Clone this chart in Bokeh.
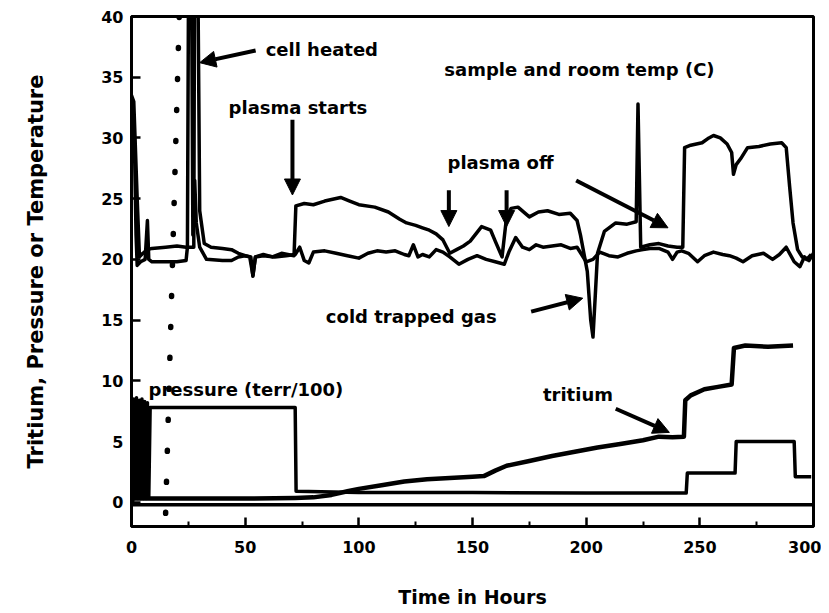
from bokeh.plotting import figure
from bokeh.models import Range1d, FixedTicker, Arrow, NormalHead, ColumnDataSource
from bokeh.core.properties import value
from bokeh.embed import file_html
from bokeh.resources import INLINE

# ---- data ----
sample_h = [0, 1, 2.5, 3.5, 5, 7, 9, 15, 20, 24, 27.4, 27.8, 29, 30, 32, 35, 40, 44, 47, 50, 52.5, 53.4, 54.5,
            58, 62, 66, 71.5, 72.3, 76, 80, 85, 92, 96, 100, 107, 113, 118, 121, 125, 128, 131, 134, 137, 140,
            143, 146, 149, 154, 158, 160, 163, 165, 167, 170, 175, 179, 183, 188, 193, 196, 197.5, 199, 200.5,
            202, 203, 204, 205, 208, 213, 218, 222, 222.8, 224, 228, 232, 236, 240, 242.5, 243.3, 246, 251,
            254, 256, 259, 262, 264, 264.8, 266, 268, 271, 276, 281, 286, 288, 289.5, 291, 293, 295, 297, 299]
sample_t = [33.5, 33, 25, 20.2, 20.5, 20.8, 20.9, 21.0, 21.1, 21.0, 21.0, 48, 48, 24, 21.3, 21.0, 20.9, 20.8,
            20.5, 20.3, 20.2, 18.6, 20.2, 20.4, 20.2, 20.5, 20.3, 24.4, 24.6, 24.5, 24.8, 25.1, 24.8, 24.5,
            24.3, 23.9, 23.3, 23.0, 22.8, 22.6, 22.4, 22.1, 21.6, 20.5, 20.8, 21.1, 21.5, 22.7, 22.4, 21.5,
            20.2, 23.5, 24.2, 24.3, 23.5, 23.9, 24.0, 23.7, 23.8, 23.2, 22.0, 20.5, 19.0, 15.0, 13.6, 17.0,
            20.5, 22.3, 23.0, 22.9, 23.1, 32.8, 21.0, 21.2, 21.3, 21.1, 21.0, 21.0, 29.2, 29.4, 29.6, 30.0,
            30.2, 30.0, 29.5, 28.8, 27.0, 27.8, 28.3, 29.2, 29.3, 29.5, 29.6, 29.2, 26.0, 23.0, 20.8, 20.2,
            20.0, 20.4]

room_h = [0, 1.2, 2, 2.5, 4, 6, 7, 7.6, 9, 15, 20, 24, 24.6, 25.2, 26.3, 27, 27.8, 28.5, 30, 33, 40, 44, 47,
          50, 52, 53.4, 54.5, 58, 63, 68, 72, 74, 76, 78, 80, 85, 90, 95, 100, 104, 108, 112, 116, 120, 122,
          124, 126, 128, 131, 134, 137, 140, 144, 148, 152, 156, 160, 164, 166, 169, 172, 175, 178, 181, 185,
          189, 193, 196, 198, 200, 203, 206, 210, 214, 218, 222, 225, 228, 232, 236, 238, 240, 242, 245, 249,
          252, 256, 260, 263, 266, 269, 273, 278, 282, 285, 288, 291.5, 294, 296, 298, 300]
room_t = [32, 30.5, 22, 19.5, 19.8, 20.0, 23.2, 20.0, 19.8, 19.8, 19.8, 19.9, 21, 48, 48, 22, 26.5, 23, 21,
          20.0, 19.9, 19.9, 20.2, 20.3, 20.2, 18.7, 20.2, 20.3, 20.2, 20.3, 20.4, 21.0, 19.9, 19.7, 20.6, 20.7,
          20.5, 20.3, 20.1, 20.5, 20.7, 20.6, 20.7, 20.4, 20.3, 21.2, 20.2, 20.4, 20.2, 20.8, 20.6, 20.2, 19.6,
          20.0, 20.3, 20.0, 19.8, 19.6, 20.6, 21.8, 21.0, 20.8, 21.2, 21.0, 21.1, 21.2, 20.9, 21.0, 20.4, 19.8,
          20.0, 20.6, 20.3, 20.2, 20.5, 20.7, 20.8, 20.9, 20.9, 20.6, 20.0, 20.6, 20.7, 20.5, 19.8, 20.3, 20.6,
          20.4, 20.3, 20.1, 19.8, 20.3, 20.5, 20.0, 20.4, 21.0, 19.8, 19.4, 20.2, 19.9, 20.5]

pressure_h = [0.5, 1, 1.5, 2.2, 2.8, 3.5, 4, 4.6, 5.2, 5.8, 6.4, 7, 7.6, 8.2, 72, 72.4, 100, 150, 200, 244,
              244.5, 265.5, 266, 291.5, 292, 299]
pressure_v = [-0.2, 8.5, 0.3, 8.6, 0.3, 8.4, 0.3, 8.5, 0.3, 8.3, 0.3, 8.2, 0.4, 7.8, 7.8, 0.9, 0.8, 0.8,
              0.75, 0.75, 2.4, 2.4, 5.0, 5.0, 2.1, 2.1]

tritium_h = [1, 20, 50, 72, 80, 88, 95, 100, 110, 120, 130, 140, 150, 155, 160, 165, 175, 185, 195, 205,
             215, 225, 232, 238, 243, 243.6, 246, 252, 258, 264, 265, 270, 280, 291]
tritium_v = [0.3, 0.3, 0.3, 0.35, 0.4, 0.6, 0.9, 1.1, 1.4, 1.7, 1.9, 2.0, 2.1, 2.15, 2.6, 3.0, 3.4, 3.8,
             4.15, 4.5, 4.8, 5.1, 5.4, 5.35, 5.4, 8.4, 8.8, 9.3, 9.5, 9.7, 12.7, 12.9, 12.8, 12.9]

baseline_h = [0, 300]
baseline_v = [-0.2, -0.2]

heat_mark_h = [21, 15]
heat_mark_v = [40, -1]

x_ticks = [0, 50, 100, 150, 200, 250, 300]
x_minor = [25, 75, 125, 175, 225, 275]
y_ticks = [0, 5, 10, 15, 20, 25, 30, 35, 40]

label_text = ["cell heated", "plasma starts", "sample and room temp (C)", "plasma off",
              "cold trapped gas", "pressure (terr/100)", "tritium"]
label_h = [59, 42.7, 137.6, 139, 85.5, 7.5, 181]
label_v = [37.3, 32.5, 35.6, 28.0, 15.3, 9.3, 8.9]

arrow_h0 = [54.6, 70.8, 139.6, 165, 195.6, 175.8, 213]
arrow_v0 = [37.2, 31.5, 25.7, 25.7, 26.5, 15.7, 7.7]
arrow_h1 = [30, 70.8, 139.6, 165, 236, 198.5, 236.6]
arrow_v1 = [36.2, 25.3, 22.7, 22.7, 22.6, 16.8, 5.75]

# ---- figure ----
FONT = "DejaVu Sans"
p = figure(width=821, height=610, output_backend="svg", toolbar_location=None,
           x_range=Range1d(0, 300), y_range=Range1d(-2, 40),
           min_border_left=131, min_border_right=8, min_border_top=16, min_border_bottom=83)
p.grid.visible = False
p.outline_line_color = "black"
p.outline_line_width = 3
p.background_fill_color = "white"
p.border_fill_color = "white"

p.xaxis.ticker = FixedTicker(ticks=x_ticks, minor_ticks=x_minor)
p.yaxis.ticker = FixedTicker(ticks=y_ticks)
for ax in (p.xaxis[0], p.yaxis[0]):
    ax.axis_line_width = 3
    ax.axis_line_color = "black"
    ax.major_tick_in = 9
    ax.major_tick_out = 0
    ax.minor_tick_in = 5
    ax.minor_tick_out = 0
    ax.major_tick_line_width = 2.5
    ax.minor_tick_line_width = 2
    ax.major_label_text_font = FONT
    ax.major_label_text_font_style = "bold"
    ax.major_label_text_font_size = "16px"
    ax.major_label_text_color = "black"
    ax.axis_label_text_font = FONT
    ax.axis_label_text_font_style = "bold"
    ax.axis_label_text_color = "black"

p.xaxis.axis_label = "Time in Hours"
p.yaxis.axis_label = "Tritium, Pressure or Temperature"
p.xaxis.axis_label_text_font_size = "19px"
p.yaxis.axis_label_text_font_size = "21px"
p.xaxis.major_label_standoff = 14
p.yaxis.major_label_standoff = 8
p.xaxis.axis_label_standoff = 30
p.yaxis.axis_label_standoff = 50

LW = 3.5
p.line(sample_h, sample_t, line_color="black", line_width=LW, line_join="round")
p.line(room_h, room_t, line_color="black", line_width=LW, line_join="round")
p.line(pressure_h, pressure_v, line_color="black", line_width=LW, line_join="round")
p.line(tritium_h, tritium_v, line_color="black", line_width=LW + 1, line_join="round")
p.line(baseline_h, baseline_v, line_color="black", line_width=LW)
p.line(heat_mark_h, heat_mark_v, line_color="black", line_width=5.5, line_dash="1 30", line_cap="round")

src = ColumnDataSource(dict(x=label_h, y=label_v, t=label_text))
p.text(x="x", y="y", text="t", source=src, text_font=value(FONT), text_font_style="bold",
       text_font_size="18px", text_align="left", text_baseline="middle", text_color="black")

for i in range(len(arrow_h0)):
    p.add_layout(Arrow(x_start=arrow_h0[i], y_start=arrow_v0[i], x_end=arrow_h1[i], y_end=arrow_v1[i],
                       line_width=4, line_color="black",
                       end=NormalHead(size=16, fill_color="black", line_color="black", line_width=1)))

open("out.html", "w").write(file_html(p, INLINE))
